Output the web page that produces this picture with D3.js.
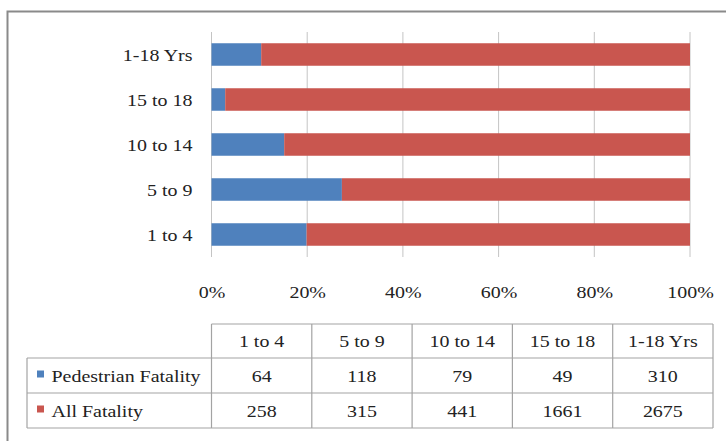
<!DOCTYPE html>
<html>
<head>
<meta charset="utf-8">
<script src="https://cdn.jsdelivr.net/npm/d3@7"></script>
<style>
  html, body { margin: 0; padding: 0; background: #ffffff; }
  svg { display: block; }
</style>
</head>
<body>
<svg id="chart" width="726" height="441"></svg>
<script>
// Age groups, as listed in the data table (left to right) and stacked bottom to top
const categories = ["1 to 4", "5 to 9", "10 to 14", "15 to 18", "1-18 Yrs"];
const seriesNames = ["Pedestrian Fatality", "All Fatality"];
const pedestrianFatality = [64, 118, 79, 49, 310];
const allFatality = [258, 315, 441, 1661, 2675];
const xTicks = [0, 0.2, 0.4, 0.6, 0.8, 1];
const colors = ["#4F81BD", "#C9564F"];

const FONT = "Liberation Serif";
const FONT_SIZE = "17.5px";
const TEXT_COLOR = "#222222";

const svg = d3.select("#chart");
const W = 726, H = 441;

// Outer frame (left and top edges)
svg.append("path")
  .attr("d", `M7.5,${H} V11.5 H${W}`)
  .attr("fill", "none")
  .attr("stroke", "#8a8a8a")
  .attr("stroke-width", 2);

// Plot area
const plot = { left: 211.5, right: 690, top: 32, bottom: 257 };

const x = d3.scaleLinear().domain([0, 1]).range([plot.left, plot.right]);
const y = d3.scaleBand()
  .domain(categories)
  .range([plot.bottom, plot.top])
  .paddingInner(0.5)
  .paddingOuter(0.25);

const rows = categories.map((c, i) => ({
  category: c,
  "Pedestrian Fatality": pedestrianFatality[i],
  "All Fatality": allFatality[i]
}));
const stacked = d3.stack().keys(seriesNames).offset(d3.stackOffsetExpand)(rows);

// Serif text, widened slightly like the stretched export
function styleText(sel) {
  sel.attr("font-family", FONT)
    .attr("font-size", FONT_SIZE)
    .attr("fill", TEXT_COLOR)
    .each(function () {
      const w = this.getComputedTextLength();
      d3.select(this).attr("textLength", w * 1.14).attr("lengthAdjust", "spacingAndGlyphs");
    });
}

// Vertical gridlines
svg.append("g")
  .selectAll("line")
  .data(xTicks)
  .join("line")
  .attr("x1", d => x(d)).attr("x2", d => x(d))
  .attr("y1", plot.top).attr("y2", plot.bottom)
  .attr("stroke", "#c4c4c4")
  .attr("stroke-width", 1);

// Bars
svg.append("g")
  .selectAll("g")
  .data(stacked)
  .join("g")
  .attr("fill", (d, i) => colors[i])
  .selectAll("rect")
  .data(d => d)
  .join("rect")
  .attr("x", d => x(d[0]))
  .attr("width", d => x(d[1]) - x(d[0]))
  .attr("y", d => y(d.data.category))
  .attr("height", y.bandwidth());

// Category axis labels
const yAxis = svg.append("g")
  .attr("transform", `translate(${plot.left},0)`)
  .call(d3.axisLeft(y).tickSize(0).tickPadding(19));
yAxis.attr("font-family", FONT).attr("font-size", FONT_SIZE);
yAxis.select(".domain").remove();
yAxis.selectAll("text")
  .attr("dy", "0.36em")
  .call(styleText);

// Percent axis labels
const xAxis = svg.append("g")
  .attr("transform", `translate(0,${plot.bottom})`)
  .call(d3.axisBottom(x).tickValues(xTicks).tickFormat(d3.format(".0%")).tickSize(0).tickPadding(29));
xAxis.attr("font-family", FONT).attr("font-size", FONT_SIZE);
xAxis.select(".domain").remove();
xAxis.selectAll("text")
  .call(styleText);

// Data table below the chart
const table = { left: 27, top: 324, headerBottom: 358, rowH: 35, right: 713 };
const col = d3.scaleBand().domain(categories).range([plot.left, table.right]);
const rowY = i => table.headerBottom + i * table.rowH;
const tableBottom = rowY(seriesNames.length);
const tg = svg.append("g").attr("stroke", "#a3a3a3").attr("stroke-width", 1.2);

// horizontal rules
tg.append("line").attr("x1", plot.left).attr("x2", table.right).attr("y1", table.top).attr("y2", table.top);
d3.range(seriesNames.length + 1).forEach(i => {
  tg.append("line").attr("x1", table.left).attr("x2", table.right).attr("y1", rowY(i)).attr("y2", rowY(i));
});
// vertical rules
tg.append("line").attr("x1", table.left).attr("x2", table.left).attr("y1", table.headerBottom).attr("y2", tableBottom);
const colEdges = categories.map(c => col(c)).concat([table.right]);
tg.selectAll(".v")
  .data(colEdges)
  .join("line")
  .attr("x1", d => d).attr("x2", d => d)
  .attr("y1", table.top).attr("y2", tableBottom);

const textG = svg.append("g").attr("text-anchor", "middle");

// header
textG.selectAll(".hdr")
  .data(categories)
  .join("text")
  .attr("x", d => col(d) + col.bandwidth() / 2)
  .attr("y", (table.top + table.headerBottom) / 2)
  .attr("dy", "0.36em")
  .text(d => d)
  .call(styleText);

// values
const seriesValues = [pedestrianFatality, allFatality];
seriesValues.forEach((vals, si) => {
  textG.selectAll(".v" + si)
    .data(vals)
    .join("text")
    .attr("x", (d, i) => col(categories[i]) + col.bandwidth() / 2)
    .attr("y", rowY(si) + table.rowH / 2)
    .attr("dy", "0.36em")
    .text(d => d)
    .call(styleText);
});

// series labels with legend keys
seriesNames.forEach((name, si) => {
  svg.append("rect")
    .attr("x", 37).attr("y", rowY(si) + 12.5)
    .attr("width", 7).attr("height", 7)
    .attr("fill", colors[si]);
  svg.append("text")
    .attr("x", 51.5)
    .attr("y", rowY(si) + table.rowH / 2)
    .attr("dy", "0.36em")
    .text(name)
    .call(styleText);
});
</script>
</body>
</html>
